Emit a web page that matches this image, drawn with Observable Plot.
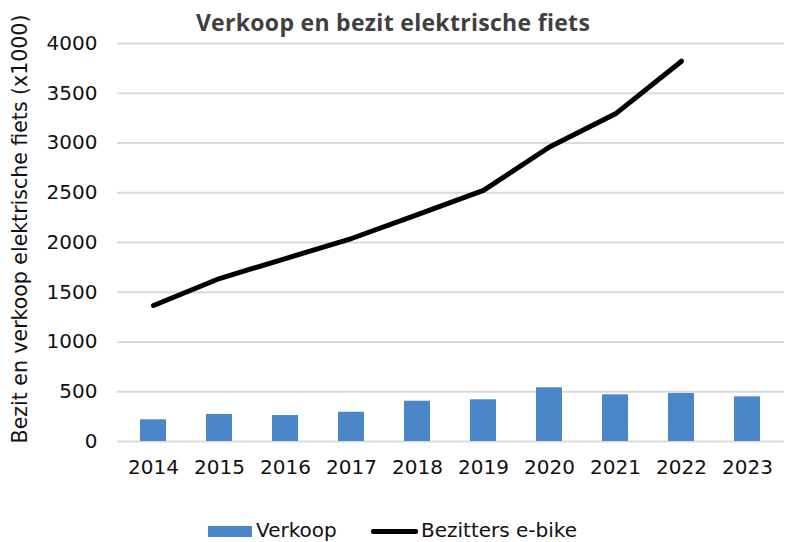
<!DOCTYPE html>
<html><head><meta charset="utf-8">
<script src="https://cdn.jsdelivr.net/npm/d3@7"></script>
<script src="https://cdn.jsdelivr.net/npm/@observablehq/plot@0.6"></script>
<style>
body{margin:0;background:#fff;}
#wrap{position:relative;width:786px;height:542px;overflow:hidden;}
#title{position:absolute;top:6px;left:0;width:786px;text-align:center;font-family:"Open Sans",sans-serif;font-weight:700;font-size:23px;color:#404040;letter-spacing:0.3px;}
#ylab{position:absolute;left:20px;top:229px;transform:translate(-50%,-50%) rotate(-90deg);white-space:nowrap;font-family:"DejaVu Sans",Verdana,sans-serif;font-size:20.5px;color:#111;}
#legend{position:absolute;top:518px;left:0;width:786px;font-family:"DejaVu Sans",Verdana,sans-serif;font-size:20px;color:#111;}
.sw{position:absolute;}
.lt{position:absolute;top:0;}
</style></head>
<body><div id="wrap"></div>
<script>
const years = ["2014","2015","2016","2017","2018","2019","2020","2021","2022","2023"];
const verkoop = [218, 271, 261, 294, 405, 419, 540, 469, 482, 449];
const bezitters = [1367, 1638, 1839, 2040, 2280, 2523, 2960, 3293, 3822, null];
const yTicks = [0, 500, 1000, 1500, 2000, 2500, 3000, 3500, 4000];
const titleText = "Verkoop en bezit elektrische fiets";
const yLabel = "Bezit en verkoop elektrische fiets (x1000)";
const legendLabels = ["Verkoop", "Bezitters e-bike"];

const barData = years.map((y, i) => ({year: y, value: verkoop[i]}));
const lineData = years.map((y, i) => ({year: y, value: bezitters[i]})).filter(d => d.value != null);

const chart = Plot.plot({
  width: 786, height: 542,
  marginTop: 43, marginBottom: 101, marginLeft: 117, marginRight: 2,
  style: {fontFamily: "'DejaVu Sans', Verdana, sans-serif", fontSize: "20px", color: "#111", background: "#fff"},
  x: {domain: years, paddingInner: 0.6, paddingOuter: 0.3, label: null, tickSize: 0, tickPadding: 18},
  y: {domain: [0, 4000], ticks: yTicks, tickFormat: "d", label: null, tickSize: 0, tickPadding: 20},
  marks: [
    Plot.ruleY(yTicks, {stroke: "#d9d9d9", strokeWidth: 2}),
    Plot.barY(barData, {x: "year", y: "value", fill: "#4a86c8"}),
    Plot.line(lineData, {x: "year", y: "value", stroke: "#000", strokeWidth: 5, strokeLinecap: "round", strokeLinejoin: "round"})
  ]
});
const wrap = document.getElementById("wrap");
wrap.appendChild(chart);
const t = document.createElement("div"); t.id = "title"; t.textContent = titleText; wrap.appendChild(t);
const yl = document.createElement("div"); yl.id = "ylab"; yl.textContent = yLabel; wrap.appendChild(yl);
const lg = document.createElement("div"); lg.id = "legend";
lg.innerHTML = `<div class="sw" style="left:208px;top:8px;width:44px;height:11px;background:#4a86c8"></div>
<div class="lt" style="left:256px">${legendLabels[0]}</div>
<div class="sw" style="left:371px;top:11px;width:47px;height:5px;background:#000;border-radius:2px"></div>
<div class="lt" style="left:421px">${legendLabels[1]}</div>`;
wrap.appendChild(lg);
</script></body></html>
